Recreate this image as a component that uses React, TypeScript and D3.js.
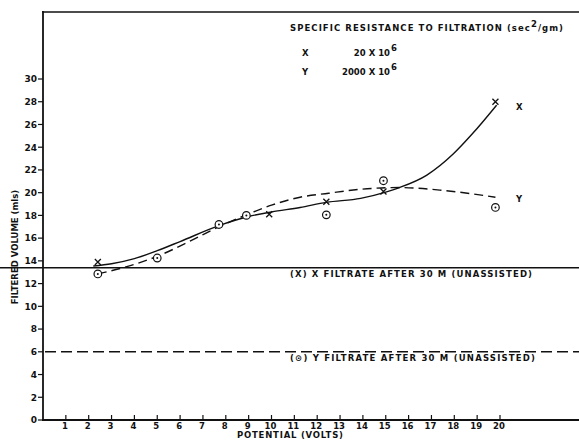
import React, { useEffect, useRef } from "react";
import * as d3 from "d3";

// measured points
const xPointsV = [2.4, 7.7, 9.9, 12.4, 14.9, 19.8];
const xPointsF = [13.9, 17.2, 18.1, 19.2, 20.1, 28.0];
const yPointsV = [2.4, 5.0, 7.7, 8.9, 12.4, 14.9, 19.8];
const yPointsF = [12.85, 14.25, 17.2, 18.0, 18.05, 21.05, 18.7];

// hand drawn fitted curves
const xCurveV = [2.2, 3, 4, 5, 6, 7.7, 9, 10, 11.25, 12.4, 13.9, 15, 15.6, 16.8, 17.95, 18.8, 19.85];
const xCurveF = [13.55, 13.75, 14.2, 14.9, 15.7, 17.1, 17.9, 18.3, 18.7, 19.15, 19.5, 20.05, 20.45, 21.55, 23.4, 25.2, 27.7];
const yCurveV = [2.4, 3.5, 5, 6.5, 7.7, 8.9, 10, 11.25, 12.5, 13.9, 15.6, 17.5, 19.8];
const yCurveF = [12.85, 13.4, 14.4, 15.8, 17.0, 18.05, 18.9, 19.6, 19.95, 20.3, 20.45, 20.2, 19.6];

// unassisted filtrate levels
const xUnassisted = 13.4;
const yUnassisted = 6;

const xTicks = d3.range(1, 21);
const yTicks = d3.range(0, 31, 2);

const FONT = "DejaVu Sans";

export default function App() {
  const ref = useRef<SVGSVGElement>(null);

  useEffect(() => {
    const svg = d3.select(ref.current);
    svg.selectAll("*").remove();

    const x = d3.scaleLinear().domain([0, 20]).range([43, 500]);
    const y = d3.scaleLinear().domain([0, 30]).range([420, 79]);
    const right = 579;

    const g = svg.append("g").attr("fill", "none").attr("stroke", "#111");

    // frame: top, left axis, bottom axis
    g.append("line").attr("x1", 42).attr("x2", right).attr("y1", 12).attr("y2", 12).attr("stroke-width", 1.6);
    g.append("line").attr("x1", 43).attr("x2", 43).attr("y1", 11).attr("y2", 421).attr("stroke-width", 1.8);
    g.append("line").attr("x1", 42).attr("x2", right).attr("y1", 420).attr("y2", 420).attr("stroke-width", 1.8);

    // y ticks (outward)
    yTicks.forEach(t => {
      g.append("line").attr("x1", 38).attr("x2", 43).attr("y1", y(t)).attr("y2", y(t)).attr("stroke-width", 1.2);
      svg.append("text")
        .attr("x", 37).attr("y", y(t) + 3.3)
        .attr("text-anchor", "end")
        .style("font-family", FONT).style("font-size", "9px").style("font-weight", "bold")
        .attr("fill", "#111")
        .text(t);
    });

    // x ticks (inward)
    xTicks.forEach(t => {
      g.append("line").attr("x1", x(t)).attr("x2", x(t)).attr("y1", 415).attr("y2", 420).attr("stroke-width", 1.2);
      svg.append("text")
        .attr("x", x(t) - 1).attr("y", 428.5)
        .attr("text-anchor", "middle")
        .style("font-family", FONT).style("font-size", "8.5px").style("font-weight", "bold")
        .attr("fill", "#111")
        .text(t);
    });

    // unassisted reference lines
    g.append("line").attr("x1", 0).attr("x2", right)
      .attr("y1", y(xUnassisted)).attr("y2", y(xUnassisted)).attr("stroke-width", 1.6);
    g.append("line").attr("x1", 45).attr("x2", right)
      .attr("y1", y(yUnassisted)).attr("y2", y(yUnassisted)).attr("stroke-width", 1.5)
      .attr("stroke-dasharray", "11 5");

    // fitted curves
    const line = d3.line<number>()
      .x(d => x(d[0]))
      .y(d => y(d[1]))
      .curve(d3.curveMonotoneX);
    g.append("path").attr("d", line(d3.zip(xCurveV, xCurveF) as any)).attr("stroke-width", 1.4);
    g.append("path").attr("d", line(d3.zip(yCurveV, yCurveF) as any)).attr("stroke-width", 1.4)
      .attr("stroke-dasharray", "9 5");

    // X markers (crosses)
    xPointsV.forEach((v, i) => {
      const cx = x(v), cy = y(xPointsF[i]);
      g.append("path")
        .attr("d", `M${cx - 3},${cy - 3}L${cx + 3},${cy + 3}M${cx + 3},${cy - 3}L${cx - 3},${cy + 3}`)
        .attr("stroke-width", 1.3);
    });

    // Y markers (circle with dot)
    yPointsV.forEach((v, i) => {
      const cx = x(v), cy = y(yPointsF[i]);
      g.append("circle").attr("cx", cx).attr("cy", cy).attr("r", 3.8).attr("stroke-width", 1.2).attr("fill", "#fff");
      g.append("circle").attr("cx", cx).attr("cy", cy).attr("r", 1).attr("fill", "#111").attr("stroke", "none");
    });

    const txt = (xx: number, yy: number, s: string, len?: number, size = 8.5) => {
      const t = svg.append("text")
        .attr("x", xx).attr("y", yy)
        .style("font-family", FONT).style("font-size", size + "px").style("font-weight", "bold")
        .attr("fill", "#111")
        .text(s);
      if (len) t.attr("textLength", len).attr("lengthAdjust", "spacing");
      return t;
    };

    // legend
    const title = svg.append("text")
      .attr("x", 290).attr("y", 31)
      .attr("textLength", 273).attr("lengthAdjust", "spacing")
      .style("font-family", FONT).style("font-size", "8.5px").style("font-weight", "bold")
      .attr("fill", "#111");
    title.append("tspan").text("SPECIFIC RESISTANCE TO FILTRATION (sec");
    title.append("tspan").attr("dy", -4).text("2");
    title.append("tspan").attr("dy", 4).text("/gm)");

    txt(302, 56, "X");
    txt(302, 75, "Y");
    txt(390, 56, "20 X 10").attr("text-anchor", "end");
    txt(391, 51, "6");
    txt(390, 75, "2000 X 10").attr("text-anchor", "end");
    txt(391, 70, "6");

    // curve labels
    txt(516, 110, "X");
    txt(516, 202, "Y");

    txt(290, 277, "(X)  X FILTRATE AFTER 30 M (UNASSISTED)", 242);
    txt(290, 361, "(\u2299)  Y FILTRATE AFTER 30 M (UNASSISTED)", 245);

    // axis titles
    txt(237, 437.5, "POTENTIAL (VOLTS)", 106);
    svg.append("text")
      .attr("transform", "translate(18,247) rotate(-90)")
      .attr("text-anchor", "middle")
      .style("font-family", FONT).style("font-size", "8.5px").style("font-weight", "bold")
      .attr("fill", "#111")
      .text("FILTERED VOLUME (mls)");
  }, []);

  return (
    <svg ref={ref} width={579} height={441}
      style={{ position: "absolute", left: 0, top: 0, background: "#fff" }} />
  );
}
